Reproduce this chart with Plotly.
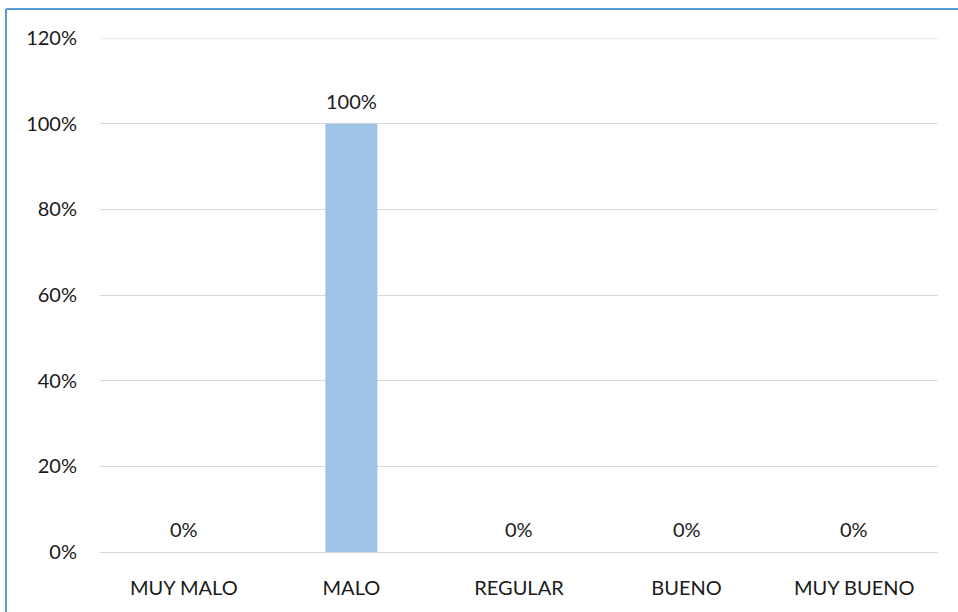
import plotly.graph_objects as go

categories = ["MUY MALO", "MALO", "REGULAR", "BUENO", "MUY BUENO"]
values = [0.0, 1.0, 0.0, 0.0, 0.0]
y_ticks = [0, 0.2, 0.4, 0.6, 0.8, 1.0, 1.2]

W, H = 958, 612
L, R, T, B = 100, 20, 38, 60
pw, ph = W - L - R, H - T - B

font = dict(family="Lato, 'Open Sans', sans-serif", size=20, color="#1a1a1a")

fig = go.Figure()
fig.add_trace(go.Bar(
    x=categories, y=values,
    marker=dict(color="#9DC3E6", line=dict(width=0)),
    cliponaxis=False,
))

for c, v in zip(categories, values):
    fig.add_annotation(x=c, y=v, text=f"{v:.0%}", showarrow=False,
                       yanchor="middle", yshift=23, font=font)

fig.update_layout(
    width=W, height=H,
    margin=dict(l=L, r=R, t=T, b=B),
    paper_bgcolor="white", plot_bgcolor="white",
    bargap=0.69,
    showlegend=False,
    font=font,
    xaxis=dict(showgrid=False, showline=False, ticks="outside", ticklen=18,
               tickcolor="rgba(0,0,0,0)", tickfont=font),
    yaxis=dict(range=[0, 1.2], tickvals=y_ticks, tickformat=".0%",
               showgrid=True, gridcolor="#D9D9D9", gridwidth=1,
               zeroline=True, zerolinecolor="#D9D9D9", zerolinewidth=1,
               showline=False, ticks="outside", ticklen=18,
               tickcolor="rgba(0,0,0,0)", tickfont=font),
)

# top gridline (at the axis maximum)
fig.add_shape(type="line", xref="paper", yref="y", layer="below",
              x0=0, x1=1, y0=y_ticks[-1], y1=y_ticks[-1],
              line=dict(color="#D9D9D9", width=1))

# chart border (blue frame extending past right/bottom edges)
x0 = (6 - L) / pw
y1 = 1 + (T - 9) / ph
fig.add_shape(type="line", xref="paper", yref="paper",
              x0=x0, x1=(W + 10 - L) / pw, y0=y1, y1=y1,
              line=dict(color="#5B9BD5", width=2))
fig.add_shape(type="line", xref="paper", yref="paper",
              x0=x0, x1=x0, y0=y1, y1=-(B + 10) / ph,
              line=dict(color="#5B9BD5", width=2))

fig.write_html("out.html")
